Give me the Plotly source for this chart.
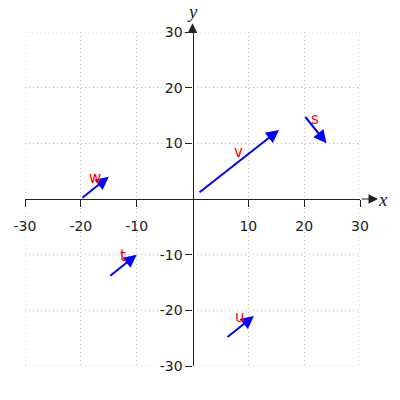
import plotly.graph_objects as go

# vector data: name, tail (x0, y0), head (x1, y1)
names = ["w", "v", "s", "t", "u"]
x0 = [-20, 1, 20, -15, 6]
y0 = [0, 1, 15, -14, -25]
x1 = [-15, 15.5, 24, -10, 11]
y1 = [4, 12.4, 10, -10, -21]

tick_vals = [-30, -20, -10, 10, 20, 30]
tick_text = ["-30", "-20", "-10", "10", "20", "30"]
axis_range = [-30, 30]

AX = "#222222"
GRID = "#bdbdbd"
fig = go.Figure()
# invisible trace to establish axes
fig.add_trace(go.Scatter(x=[axis_range[0], axis_range[1]], y=[axis_range[0], axis_range[1]],
                         mode="markers", marker=dict(opacity=0), hoverinfo="skip", showlegend=False))

# edge grid lines (plotly omits gridlines on the range boundary)
fig.add_shape(type="rect", xref="x", yref="y",
              x0=axis_range[0], x1=axis_range[1], y0=axis_range[0], y1=axis_range[1],
              line=dict(color=GRID, width=1, dash="1px,3px"), layer="below")

annotations = []
for n, a, b, c, d in zip(names, x0, y0, x1, y1):
    annotations.append(dict(x=c, y=d, ax=a, ay=b, xref="x", yref="y", axref="x", ayref="y",
                            showarrow=True, arrowhead=2, arrowsize=1.3, arrowwidth=2,
                            arrowcolor="#0000ff", text="", standoff=0, startstandoff=0))
    annotations.append(dict(x=(a + c) / 2, y=(b + d) / 2, xref="x", yref="y", text=n,
                            showarrow=False, yshift=10,
                            font=dict(family="DejaVu Sans", size=15, color="#ff0000")))

# axis arrow extensions
annotations.append(dict(x=1.054, y=0.5, xref="paper", yref="paper", ax=-18, ay=0,
                        axref="pixel", ayref="pixel", showarrow=True, arrowhead=2,
                        arrowsize=1.6, arrowwidth=1.2, arrowcolor=AX, text="", standoff=0))
annotations.append(dict(x=0.5, y=1.026, xref="paper", yref="paper", ax=0, ay=9,
                        axref="pixel", ayref="pixel", showarrow=True, arrowhead=2,
                        arrowsize=1.6, arrowwidth=1.2, arrowcolor=AX, text="", standoff=0))
annotations.append(dict(x=1.069, y=0.5, xref="paper", yref="paper", text="<i>x</i>", showarrow=False,
                        xanchor="center", yanchor="middle",
                        font=dict(family="Liberation Serif", size=19, color=AX)))
annotations.append(dict(x=0.5, y=1.06, xref="paper", yref="paper", text="<i>y</i>", showarrow=False,
                        xanchor="center", yanchor="middle",
                        font=dict(family="Liberation Serif", size=19, color=AX)))

common = dict(range=axis_range, tickvals=tick_vals, ticktext=tick_text,
              showgrid=True, gridcolor=GRID, griddash="1px,3px", gridwidth=1,
              zeroline=False, showline=True, linecolor=AX, linewidth=1.3,
              ticks="outside", ticklen=7, tickwidth=1.3, tickcolor=AX,
              tickfont=dict(family="DejaVu Sans", size=14, color=AX),
              anchor="free", position=0.5, fixedrange=True)

fig.update_layout(
    width=400, height=400,
    margin=dict(l=25, r=40, t=32, b=34),
    paper_bgcolor="white", plot_bgcolor="white",
    xaxis=dict(**common, ticklabelstandoff=7),
    yaxis=dict(**common),
    annotations=annotations,
    showlegend=False,
)
fig.write_html("out.html", config={"displayModeBar": False},
               post_script="document.body.style.margin='0';")
